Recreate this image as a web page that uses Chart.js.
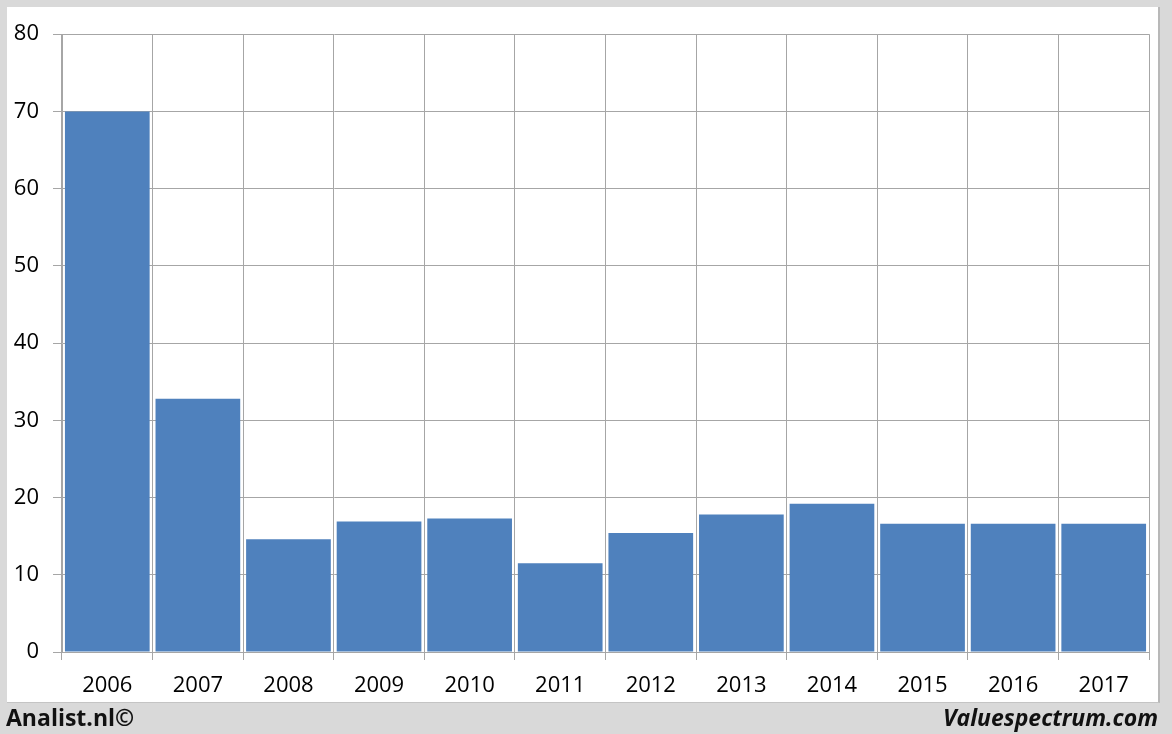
<!DOCTYPE html>
<html>
<head>
<meta charset="utf-8">
<script src="https://cdn.jsdelivr.net/npm/chart.js@4/dist/chart.umd.min.js"></script>
<style>
  html, body { margin: 0; padding: 0; }
  body { width: 1172px; height: 734px; background: #d9d9d9; position: relative; overflow: hidden; font-family: "Open Sans", sans-serif; }
  #panel { position: absolute; left: 7px; top: 7px; width: 1151px; height: 695px; background: #fff; border-right: 2px solid #b8b8b8; border-bottom: 1px solid #c4c4c4; }
  #c { position: absolute; left: 0; top: 0; }
  .foot { position: absolute; top: 701px; font-weight: 700; font-size: 23px; color: #111; line-height: 32px; }
  #left { left: 6px; }
  #right { right: 14px; font-style: italic; }
</style>
</head>
<body>
<div id="panel"><canvas id="c" width="1151" height="695"></canvas></div>
<div class="foot" id="left">Analist.nl©</div>
<div class="foot" id="right">Valuespectrum.com</div>
<script>
const years = ["2006","2007","2008","2009","2010","2011","2012","2013","2014","2015","2016","2017"];
const values = [70, 32.8, 14.6, 16.9, 17.3, 11.5, 15.4, 17.8, 19.2, 16.6, 16.6, 16.6];
const yTicks = [0, 10, 20, 30, 40, 50, 60, 70, 80];

const gridColor = '#a6a6a6';
const tickFont = { family: '"Open Sans", sans-serif', size: 22 };

new Chart(document.getElementById('c'), {
  type: 'bar',
  data: {
    labels: years,
    datasets: [{
      data: values,
      backgroundColor: '#4f81bd',
      borderWidth: 0,
      barPercentage: 0.935,
      categoryPercentage: 1.0
    }]
  },
  options: {
    responsive: false,
    animation: false,
    devicePixelRatio: 1,
    layout: { padding: { left: 0, top: 26, right: 9, bottom: 0 } },
    plugins: { legend: { display: false }, tooltip: { enabled: false } },
    scales: {
      x: {
        offset: true,
        grid: { offset: true, color: gridColor, lineWidth: 1, tickLength: 8, drawTicks: true },
        border: { color: gridColor },
        ticks: { color: '#000', font: tickFont, padding: 13, maxRotation: 0 },
        afterFit: (s) => { s.height = 50; }
      },
      y: {
        min: 0, max: 80,
        afterBuildTicks: (s) => { s.ticks = yTicks.map(v => ({ value: v })); },
        grid: { color: gridColor, lineWidth: 1, tickLength: 9 },
        border: { color: gridColor },
        ticks: { color: '#000', font: tickFont, padding: 14 },
        afterFit: (s) => { s.width = 55; }
      }
    }
  }
});
</script>
</body>
</html>
